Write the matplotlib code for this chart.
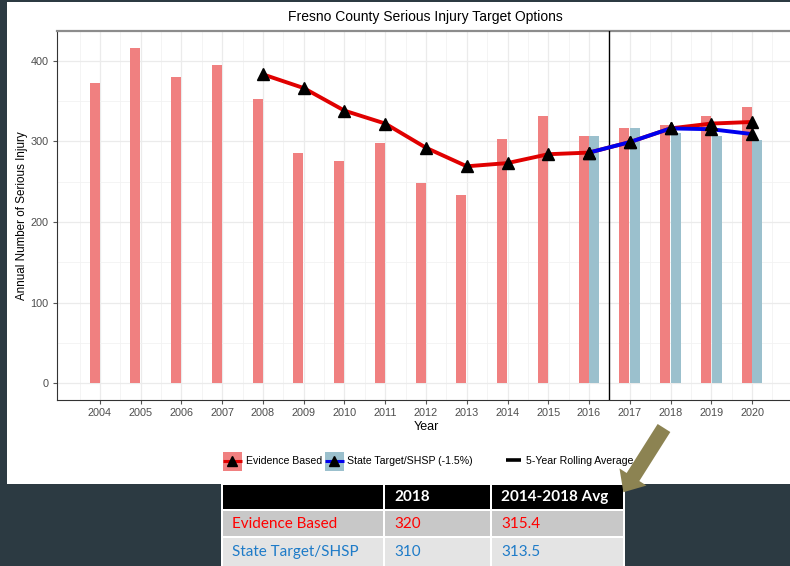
import matplotlib
matplotlib.use("Agg")
import matplotlib.pyplot as plt
import numpy as np
from matplotlib.patches import Rectangle, FancyArrow

# data
years = list(range(2004, 2021))
evidence = [372, 416, 380, 395, 353, 285, 276, 298, 248, 234, 303, 331, 307, 316, 320, 331, 343]
state_years = [2016, 2017, 2018, 2019, 2020]
state = [307, 316, 310, 307, 302]
ev_avg_years = list(range(2008, 2021))
ev_avg = [383, 366, 338, 322, 292, 269, 273, 284, 286, 299, 316, 322, 324]
st_avg = [286, 299, 316, 315, 309]

legend_labels = ["Evidence Based", "State Target/SHSP (-1.5%)", "5-Year Rolling Average"]
table_cols = ["", "2018", "2014-2018 Avg"]
table_rows = [["Evidence Based", "320", "315.4"],
              ["State Target/SHSP", "310", "313.5"]]

RED_BAR = "#F08080"
BLUE_BAR = "#9BC0CD"
RED_LINE = "#E00000"
BLUE_LINE = "#0000EE"
DARK = "#2C3A42"

W, H = 790, 566
fig = plt.figure(figsize=(W / 100, H / 100), dpi=100)
fig.patch.set_facecolor(DARK)

# background panel (pixel coords)
bg = fig.add_axes([0, 0, 1, 1], zorder=0)
bg.set_xlim(0, W)
bg.set_ylim(H, 0)
bg.axis("off")
bg.add_patch(Rectangle((7, 2), W - 7, 482, fc="white", ec="none"))

# main chart
ax = fig.add_axes([57 / W, 1 - 400 / H, (795 - 57) / W, (400 - 31) / H], zorder=1)
ax.set_facecolor("white")
ax.set_xlim(2002.945, 2021.055)
ax.set_ylim(-20.8, 436.8)

x = np.array(years)
xs = np.array(state_years)
ax.bar(x - 0.13, evidence, width=0.245, color=RED_BAR, zorder=2)
ax.bar(xs + 0.13, state, width=0.245, color=BLUE_BAR, zorder=2)

ax.axvline(2016.5, color="black", lw=1, zorder=3)

ax.plot(ev_avg_years, ev_avg, color=RED_LINE, lw=2.8, zorder=4)
ax.plot(state_years, st_avg, color=BLUE_LINE, lw=2.8, zorder=5)
ax.plot(ev_avg_years, ev_avg, ls="none", marker="^", ms=8.5, color="black", zorder=6)
ax.plot(state_years, st_avg, ls="none", marker="^", ms=8.5, color="black", zorder=6)

ax.set_xticks(years)
ax.set_xticks(np.arange(2003.5, 2021, 1), minor=True)
ax.set_yticks([0, 100, 200, 300, 400])
ax.set_yticks([50, 150, 250, 350], minor=True)
ax.grid(which="major", color="#EBEBEB", lw=0.9, zorder=0)
ax.grid(which="minor", color="#F2F2F2", lw=0.6, zorder=0)
ax.set_axisbelow(True)
ax.tick_params(which="major", length=3, color="#555555", labelsize=7.8,
               labelcolor="#4D4D4D", pad=3)
ax.tick_params(which="minor", length=0)
for lab in ax.get_xticklabels() + ax.get_yticklabels():
    lab.set_family("Liberation Sans")

ax.spines["top"].set_color("#8C8C8C")
ax.spines["top"].set_linewidth(1.6)
ax.spines["left"].set_color("#333333")
ax.spines["bottom"].set_color("#333333")
ax.spines["right"].set_visible(False)

ax.set_xlabel("Year", family="Liberation Sans", fontsize=9, labelpad=2)
ax.set_ylabel("Annual Number of Serious Injury", family="Liberation Sans", fontsize=8.4, labelpad=2)
fig.text(425 / W, 1 - 17 / H, "Fresno County Serious Injury Target Options",
         family="Liberation Sans", fontsize=10, ha="center", va="center")

# overlay for legend, table and arrow (pixel coords)
top = fig.add_axes([0, 0, 1, 1], zorder=3)
top.set_xlim(0, W)
top.set_ylim(H, 0)
top.axis("off")
top.patch.set_alpha(0)

# legend drawn by hand: key boxes with line + triangle
ly = 461
for kx, fill, lc, lab, tx in [(223, RED_BAR, RED_LINE, legend_labels[0], 246),
                               (325, BLUE_BAR, BLUE_LINE, legend_labels[1], 347)]:
    top.add_patch(Rectangle((kx, 452), 18.5, 18.5, fc=fill, ec="none"))
    top.plot([kx, kx + 18.5], [ly, ly], color=lc, lw=2.2, solid_capstyle="butt")
    top.plot([kx + 9.25], [ly - 0.5], ls="none", marker="^", ms=7, color="black")
    top.text(tx, ly, lab, family="Liberation Sans", fontsize=7.6, va="center")
top.plot([506, 520.5], [ly - 1, ly - 1], color="black", lw=2.6, solid_capstyle="butt")
top.text(526.5, ly, legend_labels[2], family="Liberation Sans", fontsize=7.6, va="center")

# table
col_x = [222, 384, 491, 624]
row_y = [484, 510, 537, 567]
row_bg = ["black", "#C8C8C8", "#E4E4E4"]
top.add_patch(Rectangle((col_x[0] - 1, row_y[0]), col_x[-1] - col_x[0] + 2, H - row_y[0],
                        fc="white", ec="none"))
for r in range(3):
    for c in range(3):
        top.add_patch(Rectangle((col_x[c] + 1, row_y[r] + 1),
                                col_x[c + 1] - col_x[c] - 2, row_y[r + 1] - row_y[r] - 2,
                                fc=row_bg[r], ec="none"))
for c in range(3):
    top.text(col_x[c] + 10, (row_y[0] + row_y[1]) / 2, table_cols[c], color="white",
             fontweight="bold", family="Lato", fontsize=11, va="center")
row_colors = ["#FF0000", "#1E7BC8"]
for r, row in enumerate(table_rows):
    for c in range(3):
        top.text(col_x[c] + 10, (row_y[r + 1] + row_y[r + 2]) / 2, row[c],
                 color=row_colors[r], family="Lato", fontsize=11, va="center")

top.add_patch(FancyArrow(664, 428, -31, 49, width=15, head_width=32, head_length=18,
                         length_includes_head=False, fc="#8C8352", ec="none"))

fig.savefig("out.png", dpi=100, facecolor=fig.get_facecolor())
